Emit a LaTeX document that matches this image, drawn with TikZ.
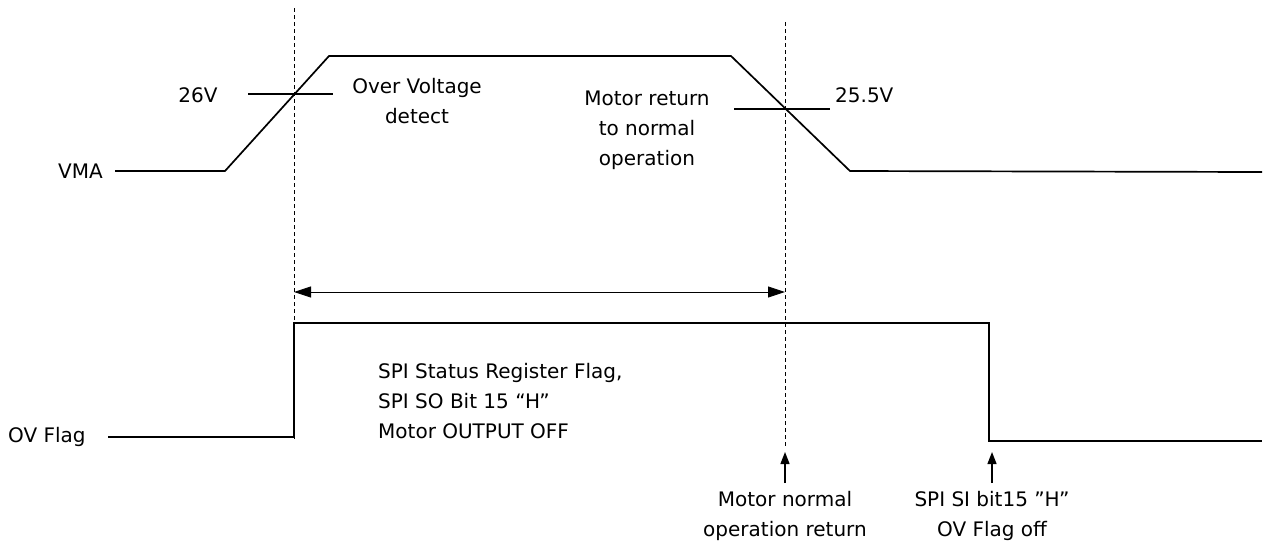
\documentclass[tikz,border=0pt]{standalone}
\usepackage{fontspec}
\setmainfont{DejaVu Sans}
\usetikzlibrary{arrows.meta}
\begin{document}
\begin{tikzpicture}[x=1pt,y=-1pt,
  wave/.style={line width=1.7pt,line join=miter},
  thin/.style={line width=1.3pt},
  guide/.style={line width=0.8pt,dash pattern=on 4pt off 3pt},
  lbl/.style={font=\fontsize{20}{30}\selectfont,inner sep=0pt,align=center},
  tip/.style={-{Triangle[length=12pt,width=9pt]}},
  dbl/.style={{Triangle[length=17pt,width=11pt]}-{Triangle[length=17pt,width=11pt]},line width=0.9pt}]
\useasboundingbox (0,0) rectangle (1277,542);
% VMA waveform
\coordinate (v0) at (115,171);
\coordinate (v1) at (225,171);
\coordinate (v2) at (329,56);
\coordinate (v3) at (731,56);
\coordinate (v4) at (850,171);
\coordinate (v5) at (1262,172);
\draw[wave] (v0) -- (v1) -- (v2) -- (v3) -- (v4) -- (v5);
\node[lbl,anchor=west] (vma) at (58,171) {VMA};
% threshold marks
\coordinate (t1a) at (248,94); \coordinate (t1b) at (333,94);
\draw[thin] (t1a) -- (t1b);
\node[lbl] (v26) at (198,95) {26V};
\coordinate (t2a) at (734,109); \coordinate (t2b) at (830,109);
\draw[thin] (t2a) -- (t2b);
\node[lbl,anchor=west] (v255) at (835,95) {25.5V};
% labels
\node[lbl] (ovd) at (417,101.5) {Over Voltage\\detect};
\node[lbl] (mret) at (647,130) {Motor return\\to normal\\operation};
% dashed guides
\coordinate (d1a) at (294,8); \coordinate (d1b) at (294,440);
\coordinate (d2a) at (785,22); \coordinate (d2b) at (785,446);
\draw[guide] (d1a) -- (d1b);
\draw[guide] (d2a) -- (d2b);
% double arrow
\coordinate (a1) at (294,292); \coordinate (a2) at (785,292);
\draw[dbl] (a1) -- (a2);
% OV flag waveform
\coordinate (f0) at (108,437);
\coordinate (f1) at (294,437);
\coordinate (f2) at (294,323);
\coordinate (f3) at (989,323);
\coordinate (f4) at (989,441);
\coordinate (f5) at (1262,441);
\draw[wave] (f0) -- (f1) -- (f2) -- (f3) -- (f4) -- (f5);
\node[lbl,anchor=west] (ovf) at (8,437) {OV Flag};
\node[lbl,anchor=west,align=left] (spi) at (378,401.5) {SPI Status Register Flag,\\SPI SO Bit 15 “H”\\Motor OUTPUT OFF};
% bottom arrows
\coordinate (u1a) at (785,483); \coordinate (u1b) at (785,452);
\coordinate (u2a) at (992,483); \coordinate (u2b) at (992,452);
\draw[thin,tip] (u1a) -- (u1b);
\draw[thin,tip] (u2a) -- (u2b);
\node[lbl] (mnr) at (785,516) {Motor normal\\operation return};
\node[lbl] (spisi) at (992,516) {SPI SI bit15 ”H”\\OV Flag off};
\end{tikzpicture}
\end{document}
